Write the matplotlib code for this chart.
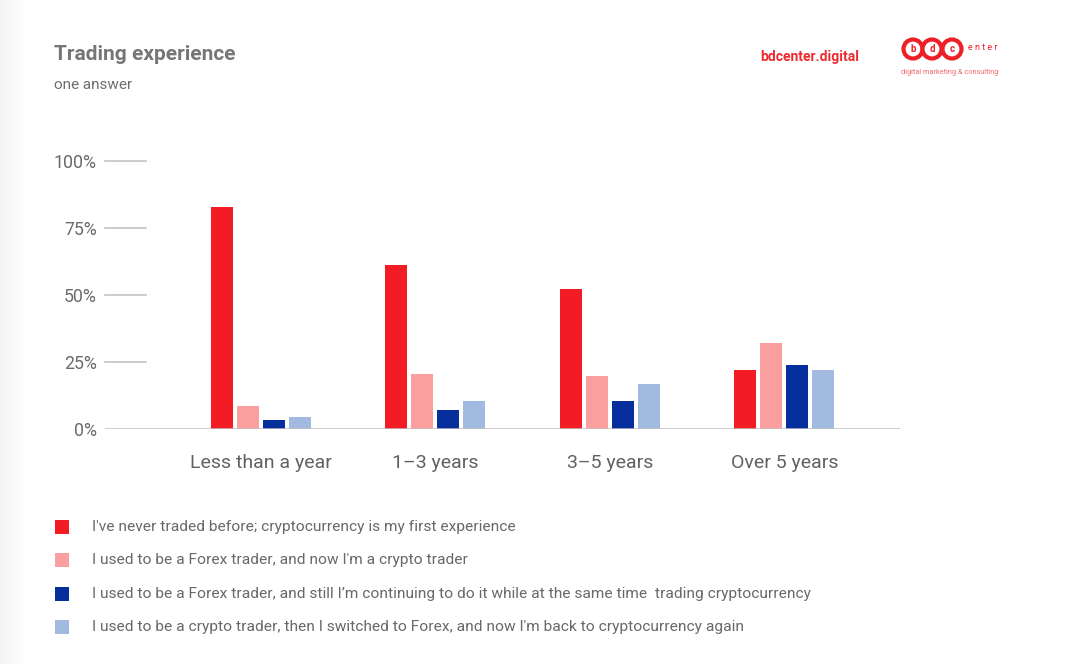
import matplotlib.pyplot as plt
from matplotlib.patches import Rectangle, Ellipse
import numpy as np

plt.rcParams['font.family'] = ['Roboto', 'DejaVu Sans']

categories = ['Less than a year', '1–3 years', '3–5 years', 'Over 5 years']
never_traded = [82.8, 61.2, 52.2, 22.0]
forex_now_crypto = [8.6, 20.5, 19.8, 32.1]
forex_and_crypto = [3.4, 7.1, 10.4, 23.9]
crypto_forex_crypto = [4.5, 10.4, 16.8, 22.0]
series_labels = [
    "I've never traded before; cryptocurrency is my first experience",
    "I used to be a Forex trader, and now I'm a crypto trader",
    "I used to be a Forex trader, and still I’m continuing to do it while at the same time  trading cryptocurrency",
    "I used to be a crypto trader, then I switched to Forex, and now I'm back to cryptocurrency again",
]
yticks = [0, 25, 50, 75, 100]
ytick_labels = ['0%', '25%', '50%', '75%', '100%']

series = [never_traded, forex_now_crypto, forex_and_crypto, crypto_forex_crypto]
colors = ['#f31c24', '#fa9e9f', '#062e9c', '#a2bae0']

W, H = 1080, 664
fig = plt.figure(figsize=(W / 100, H / 100), dpi=100)
fig.patch.set_facecolor('white')

# soft grey shading on the left edge
bg = fig.add_axes([0, 0, 1, 1], zorder=-10)
grad = np.ones((2, W))
edge = np.clip(np.arange(W) / 28.0, 0, 1)
grad[:] = 0.955 + 0.045 * edge
bg.imshow(grad, cmap='gray', vmin=0, vmax=1, aspect='auto', extent=[0, 1, 0, 1])
bg.axis('off')


def fx(px):
    return px / W


def fy(py):
    return 1 - py / H


ax = fig.add_axes([fx(105), fy(429), fx(900) - fx(105), fy(161) - fy(429)])
ax.set_facecolor('none')

x = np.arange(len(categories))
step = 26 / 174.5
width = 22 / 174.5
for i, (vals, c) in enumerate(zip(series, colors)):
    ax.bar(x + (i - 1.5) * step, vals, width=width, color=c, zorder=3)

ax.set_ylim(0, 100)
ax.set_xlim(-0.894, 3.662)

for s in ax.spines.values():
    s.set_visible(False)

# short gridline stubs next to the tick labels
ytr = ax.get_yaxis_transform()
for t in yticks[1:]:
    ax.plot([0, 41 / 795], [t, t], color='#c4c4c4', lw=1.2, transform=ytr, clip_on=False)
ax.axhline(0, color='#c0c0c0', lw=1.8, zorder=4)

ax.set_yticks(yticks)
ax.set_yticklabels(ytick_labels)
ax.tick_params(axis='y', length=0, pad=6, labelsize=12.8, labelcolor='#6b6b6b')
ax.set_xticks(x)
ax.set_xticklabels(categories)
ax.tick_params(axis='x', length=0, pad=18, labelsize=14, labelcolor='#616161')

# title
fig.text(fx(54), fy(55), 'Trading experience', fontsize=15, fontweight='bold',
         color='#767676', va='center', ha='left')
fig.text(fx(54), fy(85), 'one answer', fontsize=11, color='#6e6e6e',
         va='center', ha='left')

# brand
fig.text(fx(859), fy(57), 'bdcenter.digital', fontsize=10, fontweight='bold',
         color='#ee2a2f', va='center', ha='right')
for cx, letter in zip([913, 932, 952], ['b', 'd', 'c']):
    fig.patches.append(Ellipse((fx(cx), fy(49)), 19 / W, 19 / H, transform=fig.transFigure,
                               facecolor='white', edgecolor='#ee2027', lw=3.0))
    fig.text(fx(cx), fy(49), letter, fontsize=7, color='#ee2027',
             fontweight='bold', ha='center', va='center')
fig.text(fx(968), fy(48), 'e n t e r', fontsize=6.5, color='#ee2027',
         ha='left', va='center')
fig.text(fx(901), fy(72), 'digital marketing & consulting', fontsize=5.3,
         color='#f06a6e', ha='left', va='center')

# legend
for row_y, c, lab in zip([527, 560, 594, 627], colors, series_labels):
    fig.patches.append(Rectangle((fx(55), fy(row_y + 7)), 14 / W, 14 / H,
                                 transform=fig.transFigure, facecolor=c, edgecolor='none'))
    fig.text(fx(92), fy(row_y), lab, fontsize=11.15, color='#686868',
             ha='left', va='center')

fig.savefig('out.png', dpi=100)
